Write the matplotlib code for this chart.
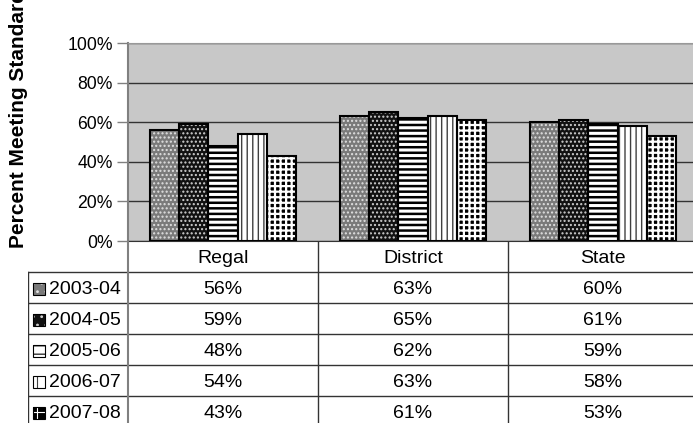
import matplotlib.pyplot as plt
from matplotlib.patches import Rectangle

plt.rcParams['font.family'] = ['Liberation Sans', 'DejaVu Sans']

groups = ['Regal', 'District', 'State']
years = ['2003-04', '2004-05', '2005-06', '2006-07', '2007-08']
values = [
    [56, 63, 60],
    [59, 65, 61],
    [48, 62, 59],
    [54, 63, 58],
    [43, 61, 53],
]
yticks = [0, 20, 40, 60, 80, 100]

# face colour, hatch colour, hatch, hatch width
styles = [
    ('#7a7a7a', '#e0e0e0', '....', 1.0),
    ('#111111', '#d0d0d0', '....', 1.0),
    ('white', 'black', '---', 1.8),
    ('white', '#404040', '|||', 1.0),
    ('black', 'white', '+++', 1.6),
]

W, H = 693, 423
fig = plt.figure(figsize=(W / 100, H / 100), dpi=100)

# plot area in pixels
left, right, top, bottom = 128, 698, 43, 241
ax = fig.add_axes([left / W, 1 - bottom / H, (right - left) / W, (bottom - top) / H])
ax.set_facecolor('#c8c8c8')
ax.set_xlim(-0.5, 2.5)
ax.set_ylim(0, 100)
ax.set_yticks(yticks)
ax.set_yticklabels([f'{v}%' for v in yticks], fontsize=12.7)
ax.tick_params(axis='y', length=8, width=1, color='#808080', pad=3)
ax.set_xticks([])
ax.grid(axis='y', color='#333333', linewidth=1)
ax.set_axisbelow(True)
for s in ['top', 'right']:
    ax.spines[s].set_color('#999999')
ax.spines['left'].set_color('#808080')
ax.spines['left'].set_linewidth(1.5)
ax.spines['bottom'].set_color('#333333')

bw = 0.154
xs = range(len(groups))
for k, (yr, vals) in enumerate(zip(years, values)):
    face, hcol, hatch, hlw = styles[k]
    pos = [x + (k - 2) * bw for x in xs]
    with plt.rc_context({'hatch.linewidth': hlw}):
        bars = ax.bar(pos, vals, width=bw, color=face, edgecolor=hcol,
                      hatch=hatch, linewidth=0, zorder=2)
    for b in bars:
        if hasattr(b, 'set_hatch_linewidth'):
            b.set_hatch_linewidth(hlw)
    ax.bar(pos, vals, width=bw, fill=False, edgecolor='black', linewidth=1.5, zorder=3)

fig.text(19 / W, 1 - 248 / H, 'Percent Meeting Standard', rotation=90,
         ha='center', va='bottom', fontsize=15, fontweight='bold')

# data table under the chart
tleft, tbottom = 28, 427
tax = fig.add_axes([tleft / W, 1 - tbottom / H, (right - tleft) / W, (tbottom - bottom) / H])
lab_w = (left - tleft) / 190
tax.set_xlim(-0.5 - lab_w, 2.5)
tax.set_ylim(6, 0)
tax.axis('off')
lc = '#333333'
ty = 0.58
for i, g in enumerate(groups):
    tax.text(i, ty, g, ha='center', va='center', fontsize=14)
for r in range(1, 6):
    tax.plot([-0.5 - lab_w, 2.5], [r, r], color=lc, lw=1)
for x in [0.5, 1.5]:
    tax.plot([x, x], [0, 6], color=lc, lw=1)
tax.plot([-0.5, -0.5], [0, 6], color='#808080', lw=1.5)
tax.plot([-0.5 - lab_w + 0.002, -0.5 - lab_w + 0.002], [1, 6], color=lc, lw=1)
for k, yr in enumerate(years):
    face, hcol, hatch, hlw = styles[k]
    r = k + 1
    sx = -0.5 - lab_w + 5 / 190
    with plt.rc_context({'hatch.linewidth': 0.8}):
        tax.add_patch(Rectangle((sx, r + 0.36), 12 / 190, 0.39, facecolor=face,
                                edgecolor=hcol, hatch=hatch[:2], lw=0))
    tax.add_patch(Rectangle((sx, r + 0.36), 12 / 190, 0.39, fill=False,
                            edgecolor='black', lw=0.8))
    tax.text(sx + 16 / 190, r + ty, yr, ha='left', va='center', fontsize=14)
    for i in range(len(groups)):
        tax.text(i, r + ty, f'{values[k][i]}%', ha='center', va='center', fontsize=14)

fig.savefig('out.png', dpi=100)
